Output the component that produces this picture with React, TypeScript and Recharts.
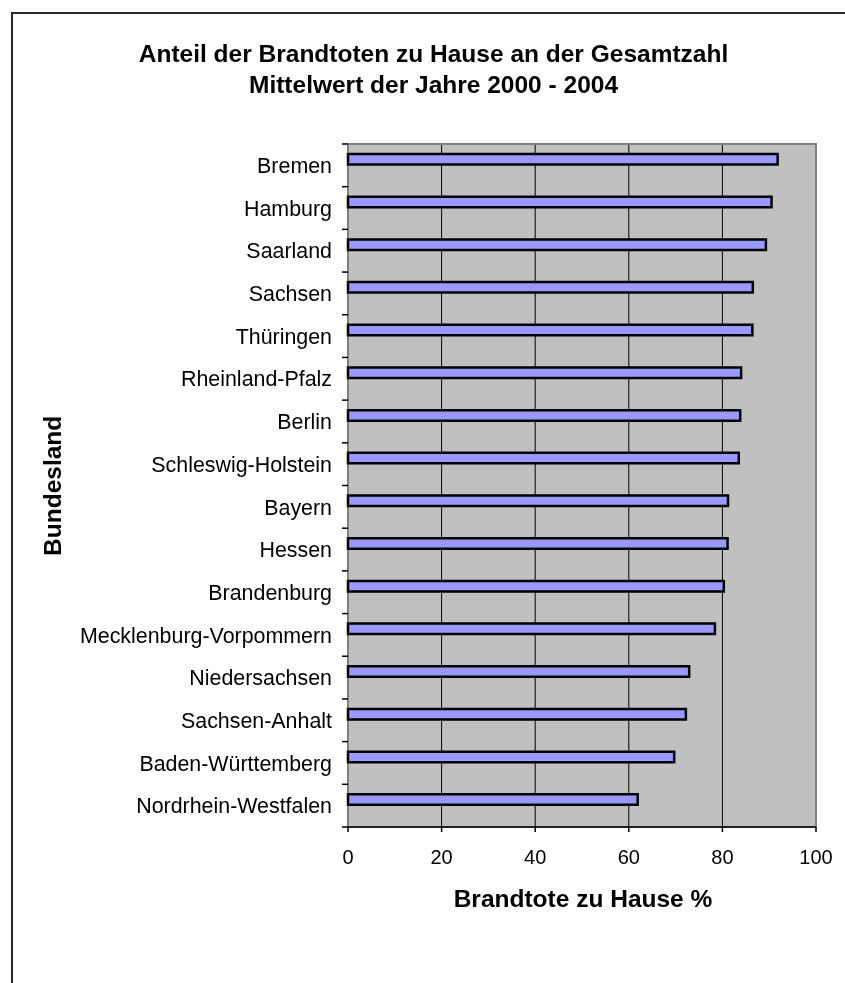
import { BarChart, Bar, XAxis, YAxis, CartesianGrid, ReferenceArea, Rectangle } from "recharts";

// Bundesländer, sortiert nach Anteil (absteigend)
const LAENDER = [
  "Bremen",
  "Hamburg",
  "Saarland",
  "Sachsen",
  "Thüringen",
  "Rheinland-Pfalz",
  "Berlin",
  "Schleswig-Holstein",
  "Bayern",
  "Hessen",
  "Brandenburg",
  "Mecklenburg-Vorpommern",
  "Niedersachsen",
  "Sachsen-Anhalt",
  "Baden-Württemberg",
  "Nordrhein-Westfalen",
];

// Brandtote zu Hause in % der Gesamtzahl, Mittel 2000-2004
const ANTEIL = [91.8, 90.5, 89.3, 86.5, 86.4, 84.0, 83.8, 83.5, 81.2, 81.1, 80.3, 78.4, 72.9, 72.2, 69.7, 61.9];

const X_TICKS = [0, 20, 40, 60, 80, 100];

const TITLE = ["Anteil der Brandtoten zu Hause an der Gesamtzahl", "Mittelwert der Jahre 2000 - 2004"];
const X_TITLE = "Brandtote zu Hause %";
const Y_TITLE = "Bundesland";

const data = LAENDER.map((name, i) => ({ name, value: ANTEIL[i] }));

const W = 829;
const H = 967;
const AXIS_X = 340;
const PLOT_TOP = 136;
const PLOT_BOTTOM = 819;
const PLOT_RIGHT = 808;
const X_AXIS_H = 60;
const BAND = (PLOT_BOTTOM - PLOT_TOP) / LAENDER.length;
const FONT = "Arial, 'Liberation Sans', sans-serif";

// Kategorie-Ticks sitzen an den Bandgrenzen, Beschriftung in der Bandmitte
function LandTick(props: any) {
  const { y, payload, index } = props;
  const top = y - BAND / 2;
  const last = index === LAENDER.length - 1;
  return (
    <g>
      <line x1={AXIS_X - 6} x2={AXIS_X} y1={top} y2={top} stroke="#000" strokeWidth={1.5} />
      {last && <line x1={AXIS_X - 6} x2={AXIS_X} y1={y + BAND / 2} y2={y + BAND / 2} stroke="#000" strokeWidth={1.5} />}
      <text x={AXIS_X - 16} y={y} dy="0.36em" textAnchor="end" fontSize={21.4} fontFamily={FONT} fill="#000">
        {payload.value}
      </text>
    </g>
  );
}

// Balken etwas oberhalb der Bandmitte
function OffsetBar(props: any) {
  return <Rectangle {...props} y={props.y - 6} />;
}

export default function App() {
  return (
    <div style={{ position: "relative", width: W, height: H, overflow: "hidden", fontFamily: FONT }}>
      {/* Rahmen läuft über den rechten und unteren Rand hinaus */}
      <div
        style={{
          position: "fixed",
          left: 11,
          top: 12,
          width: 1000,
          height: 1100,
          border: "2px solid #2a2a2a",
          boxSizing: "border-box",
        }}
      />
      <BarChart
        width={W}
        height={H}
        data={data}
        layout="vertical"
        margin={{ top: PLOT_TOP, right: W - PLOT_RIGHT, left: 0, bottom: H - PLOT_BOTTOM - X_AXIS_H }}
        style={{ position: "absolute", left: 0, top: 0 }}
      >
        <CartesianGrid horizontal={false} vertical stroke="#000" strokeWidth={1} fill="#C0C0C0" fillOpacity={1} />
        <XAxis
          type="number"
          domain={[0, 100]}
          ticks={X_TICKS}
          interval={0}
          height={X_AXIS_H}
          tickSize={5}
          tickMargin={18}
          axisLine={{ stroke: "#000", strokeWidth: 1.5 }}
          tickLine={{ stroke: "#000", strokeWidth: 1.5 }}
          tick={{ fontSize: 20, fontFamily: FONT, fill: "#000" }}
        />
        <YAxis
          type="category"
          dataKey="name"
          width={AXIS_X}
          interval={0}
          axisLine={false}
          tickLine={false}
          tick={<LandTick />}
        />
        <ReferenceArea x1={0} x2={100} fill="none" stroke="#808080" strokeWidth={2} ifOverflow="visible" />
        <Bar
          dataKey="value"
          fill="#9999FF"
          stroke="#000"
          strokeWidth={2.5}
          barSize={10.5}
          shape={<OffsetBar />}
          isAnimationActive={false}
        />
      </BarChart>
      <svg width={W} height={H} style={{ position: "absolute", left: 0, top: 0, pointerEvents: "none" }}>
        <text x={425.5} y={54} textAnchor="middle" fontSize={24.5} fontWeight="bold" fontFamily={FONT} fill="#000">
          {TITLE[0]}
        </text>
        <text x={425.5} y={85} textAnchor="middle" fontSize={24.5} fontWeight="bold" fontFamily={FONT} fill="#000">
          {TITLE[1]}
        </text>
        <text x={575} y={899} textAnchor="middle" fontSize={24.5} fontWeight="bold" fontFamily={FONT} fill="#000">
          {X_TITLE}
        </text>
        <text
          x={52.7}
          y={477.8}
          transform="rotate(-90 52.7 477.8)"
          textAnchor="middle"
          fontSize={24.5}
          fontWeight="bold"
          fontFamily={FONT}
          fill="#000"
        >
          {Y_TITLE}
        </text>
      </svg>
    </div>
  );
}
